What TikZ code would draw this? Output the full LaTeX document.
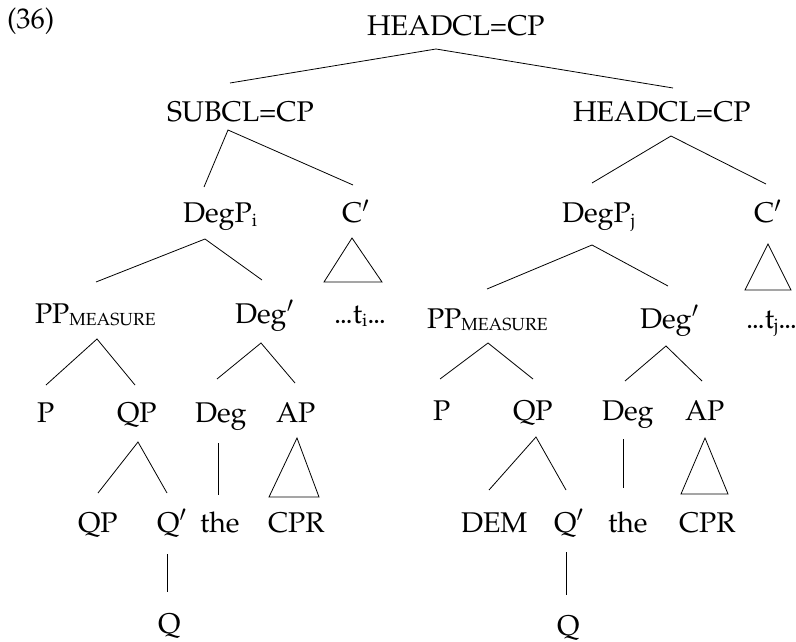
\documentclass[tikz,border=0pt]{standalone}
\usepackage[T1]{fontenc}
\usepackage{mathpazo}
\begin{document}
\begin{tikzpicture}[x=1bp,y=-1bp,
  lab/.style={anchor=base west,inner sep=0pt,outer sep=0pt,font=\fontsize{28.5bp}{34bp}\selectfont},
  edge/.style={line width=0.8bp,line join=miter},
  tri/.style={line width=0.8bp,line join=miter}]
\useasboundingbox (0,0) rectangle (796,642);
\newcommand{\meas}{\raisebox{-2bp}{\fontsize{17.5bp}{20bp}\selectfont MEASURE}}
\newcommand{\idx}[1]{\raisebox{-3.5bp}{\fontsize{18bp}{20bp}\selectfont #1}}
\newcommand{\pr}{$'$}
\newcommand{\dts}{.\kern-1.3bp.\kern-1.3bp.}

% example number
\node[lab] (num) at (7,29) {(36)};

% labels, row by row
\node[lab] (root)  at (367,36)  {HEADCL=CP};
\node[lab] (sub)   at (167,122) {SUBCL=CP};
\node[lab] (head)  at (573,122) {HEADCL=CP};
\node[lab] (dpi)   at (183,223) {DegP\idx{i}};
\node[lab] (ca)    at (342,223) {C\pr};
\node[lab] (dpj)   at (562,223) {DegP\idx{j}};
\node[lab] (cb)    at (754,223) {C\pr};
\node[lab] (ppa)   at (35,323)  {PP\meas};
\node[lab] (dba)   at (235,323) {Deg\pr};
\node[lab] (ta)    at (334,323) {\dts t\idx{i}\dts};
\node[lab] (ppb)   at (427,328) {PP\meas};
\node[lab] (dbb)   at (640,328) {Deg\pr};
\node[lab] (tb)    at (746,328) {\dts t\idx{j}\dts};
\node[lab] (pa)    at (37,422)  {P};
\node[lab] (qpa)   at (117,422) {QP};
\node[lab] (dga)   at (195,422) {Deg};
\node[lab] (apa)   at (276,422) {AP};
\node[lab] (pb)    at (433,420) {P};
\node[lab] (qpb)   at (513,420) {QP};
\node[lab] (dgb)   at (602,420) {Deg};
\node[lab] (apb)   at (685,420) {AP};
\node[lab] (qqa)   at (78,532)  {QP};
\node[lab] (qba)   at (157,532) {Q\pr};
\node[lab] (thea)  at (200,532) {the};
\node[lab] (cpra)  at (268,532) {CPR};
\node[lab] (dem)   at (461,532) {DEM};
\node[lab] (qbb)   at (554,532) {Q\pr};
\node[lab] (theb)  at (608,532) {the};
\node[lab] (cprb)  at (679,532) {CPR};
\node[lab] (qa)    at (158,633) {Q};
\node[lab] (qb)    at (557,635) {Q};

% branch points below mothers and tops of daughters
\coordinate (root-d) at (436,49);
\coordinate (sub-u)  at (230,83);   \coordinate (sub-d)  at (228,130);
\coordinate (head-u) at (673,88);   \coordinate (head-d) at (671,136);
\coordinate (dpi-u)  at (204,187);  \coordinate (dpi-d)  at (205,239);
\coordinate (ca-u)   at (353,185);
\coordinate (dpj-u)  at (592,183);  \coordinate (dpj-d)  at (592,245);
\coordinate (cb-u)   at (766,184);
\coordinate (ppa-u)  at (96,282);   \coordinate (ppa-d)  at (97,339);
\coordinate (dba-u)  at (262,280);  \coordinate (dba-d)  at (261,343);
\coordinate (ppb-u)  at (487,289);  \coordinate (ppb-d)  at (488,343);
\coordinate (dbb-u)  at (668,286);  \coordinate (dbb-d)  at (666,346);
\coordinate (pa-u)   at (46,385);
\coordinate (qpa-u)  at (135,385);  \coordinate (qpa-d)  at (138,442);
\coordinate (dga-u)  at (217,379);  \coordinate (dga-d)  at (218,443);
\coordinate (apa-u)  at (295,383);
\coordinate (pb-u)   at (440,379);
\coordinate (qpb-u)  at (533,379);  \coordinate (qpb-d)  at (536,437);
\coordinate (dgb-u)  at (625,381);  \coordinate (dgb-d)  at (623,439);
\coordinate (apb-u)  at (702,381);
\coordinate (qqa-u)  at (98,493);
\coordinate (qba-u)  at (167,493);  \coordinate (qba-d)  at (167,554);
\coordinate (thea-u) at (218,495);
\coordinate (dem-u)  at (489,490);
\coordinate (qbb-u)  at (566,490);  \coordinate (qbb-d)  at (566,552);
\coordinate (theb-u) at (623,488);
\coordinate (qa-u)   at (167,592);
\coordinate (qb-u)   at (566,595);

% branches
\draw[edge] (sub-u) -- (root-d) -- (head-u);
\draw[edge] (dpi-u) -- (sub-d) -- (ca-u);
\draw[edge] (dpj-u) -- (head-d) -- (cb-u);
\draw[edge] (ppa-u) -- (dpi-d) -- (dba-u);
\draw[edge] (ppb-u) -- (dpj-d) -- (dbb-u);
\draw[edge] (pa-u) -- (ppa-d) -- (qpa-u);
\draw[edge] (dga-u) -- (dba-d) -- (apa-u);
\draw[edge] (pb-u) -- (ppb-d) -- (qpb-u);
\draw[edge] (dgb-u) -- (dbb-d) -- (apb-u);
\draw[edge] (qqa-u) -- (qpa-d) -- (qba-u);
\draw[edge] (dem-u) -- (qpb-d) -- (qbb-u);
\draw[edge] (dga-d) -- (thea-u);
\draw[edge] (dgb-d) -- (theb-u);
\draw[edge] (qba-d) -- (qa-u);
\draw[edge] (qbb-d) -- (qb-u);

% roof triangles over unanalysed constituents
\coordinate (ca-t) at (352,238);
\draw[tri] (ca-t) -- (324,282) -- (382,282) -- cycle;
\coordinate (cb-t) at (768,244);
\draw[tri] (cb-t) -- (745,290) -- (791,290) -- cycle;
\coordinate (apa-t) at (297,438);
\draw[tri] (apa-t) -- (269,497) -- (319,497) -- cycle;
\coordinate (apb-t) at (705,438);
\draw[tri] (apb-t) -- (681,494) -- (728,494) -- cycle;
\end{tikzpicture}
\end{document}
